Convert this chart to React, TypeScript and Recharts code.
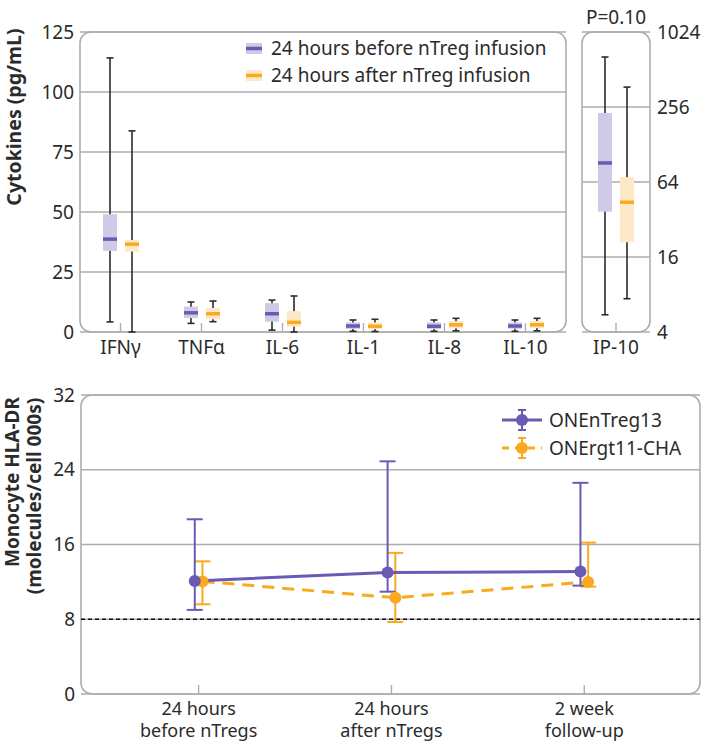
import React from 'react';
import {
  ComposedChart,
  Bar,
  Line,
  ErrorBar,
  XAxis,
  YAxis,
  CartesianGrid,
  ReferenceArea,
  ReferenceLine,
  Legend,
  Label,
} from 'recharts';

// Top panel: cytokines, box stats as [min, q1, median, q3, max]
const cytokines = ['IFNγ', 'TNFα', 'IL-6', 'IL-1', 'IL-8', 'IL-10'];
const beforeStats = [
  [4.2, 33.8, 38.7, 49.1, 114.2],
  [3.6, 5.8, 8.0, 10.6, 12.5],
  [0.8, 4.3, 7.6, 12.0, 13.3],
  [0.3, 1.2, 2.5, 4.0, 5.0],
  [0.3, 1.2, 2.4, 4.0, 5.0],
  [0.3, 1.3, 2.5, 4.0, 5.0],
];
const afterStats = [
  [0, 33.5, 36.6, 38.3, 83.8],
  [4.3, 5.3, 7.6, 10.0, 12.9],
  [0, 2.2, 4.0, 8.7, 15.0],
  [0.2, 1.2, 2.4, 4.0, 5.3],
  [0.5, 1.5, 3.0, 4.5, 5.7],
  [0.5, 1.6, 3.0, 4.6, 5.7],
];
const cytokineTicks = [0, 25, 50, 75, 100, 125];

const ip10Name = 'IP-10';
const ip10Before = [5.5, 37, 91, 229, 645];
const ip10After = [7.4, 21, 44, 70, 370];
const ip10Ticks = [4, 16, 64, 256, 1024];
const ip10P = 'P=0.10';

const groupNames = ['24 hours before nTreg infusion', '24 hours after nTreg infusion'];

// Bottom panel: monocyte HLA-DR
const timepointLabels = [
  ['24 hours', 'before nTregs'],
  ['24 hours', 'after nTregs'],
  ['2 week', 'follow-up'],
];
const seriesNames = ['ONEnTreg13', 'ONErgt11-CHA'];
const treg13Mean = [12.1, 13.0, 13.1];
const treg13Low = [9.0, 10.95, 11.6];
const treg13High = [18.7, 24.9, 22.6];
const rgt11Mean = [12.05, 10.3, 12.0];
const rgt11Low = [9.6, 7.7, 11.5];
const rgt11High = [14.2, 15.1, 16.2];
const hlaTicks = [0, 8, 16, 24, 32];
const hlaThreshold = 8;

const PURPLE = '#6a5ab4';
const PURPLE_LIGHT = '#cecae8';
const ORANGE = '#f9aa1f';
const ORANGE_LIGHT = '#fde9c8';
const FRAME = '#adadad';
const TEXT = '#2b2b2b';
const FONT = 19;

const groupStyle: Record<string, { light: string; dark: string }> = {
  before: { light: PURPLE_LIGHT, dark: PURPLE },
  after: { light: ORANGE_LIGHT, dark: ORANGE },
};

const cytokineData = cytokines.map((name, i) => ({
  name,
  before: [beforeStats[i][0], beforeStats[i][4]],
  after: [afterStats[i][0], afterStats[i][4]],
  beforeStats: beforeStats[i],
  afterStats: afterStats[i],
}));

const ip10Data = [
  {
    name: ip10Name,
    before: [ip10Before[0], ip10Before[4]],
    after: [ip10After[0], ip10After[4]],
    beforeStats: ip10Before,
    afterStats: ip10After,
  },
];

const DODGE = 0.02;
const treg13Data = treg13Mean.map((m, i) => ({
  x: i + 1 - DODGE,
  y: m,
  err: [m - treg13Low[i], treg13High[i] - m],
}));
const rgt11Data = rgt11Mean.map((m, i) => ({
  x: i + 1 + DODGE,
  y: m,
  err: [m - rgt11Low[i], rgt11High[i] - m],
}));

// box + whisker drawn inside the [min, max] range bar
function boxShape(group: 'before' | 'after', log: boolean) {
  return (props: any) => {
    const { x, y, width, height, payload } = props;
    const [mn, q1, med, q3, mx] = payload[group + 'Stats'];
    const f = log ? Math.log : (v: number) => v;
    const py = (v: number) => y + (height * (f(mx) - f(v))) / (f(mx) - f(mn));
    const cx = x + width / 2;
    const { light, dark } = groupStyle[group];
    return (
      <g>
        <line x1={cx} x2={cx} y1={y} y2={y + height} stroke={TEXT} strokeWidth={1.6} />
        <line x1={cx - 3.5} x2={cx + 3.5} y1={y} y2={y} stroke={TEXT} strokeWidth={1.6} />
        <line x1={cx - 3.5} x2={cx + 3.5} y1={y + height} y2={y + height} stroke={TEXT} strokeWidth={1.6} />
        <rect x={x} y={py(q3)} width={width} height={py(q1) - py(q3)} fill={light} />
        <line x1={x} x2={x + width} y1={py(med)} y2={py(med)} stroke={dark} strokeWidth={3.5} />
      </g>
    );
  };
}

const frameShape = (p: any) => (
  <rect x={p.x} y={p.y} width={p.width} height={p.height} rx={11} fill="none" stroke={FRAME} strokeWidth={1.6} />
);

const CategoryTick = (props: any) => {
  const { x, y, payload } = props;
  return (
    <g>
      <line x1={x} x2={x} y1={y} y2={y - 9} stroke={FRAME} strokeWidth={1.4} />
      <text x={x} y={y + 22} textAnchor="middle" fill={TEXT} fontSize={FONT}>
        {payload.value}
      </text>
    </g>
  );
};

const TimeTick = (props: any) => {
  const { x, y, payload } = props;
  const lines = timepointLabels[Math.round(payload.value) - 1] || [];
  return (
    <g>
      <line x1={x} x2={x} y1={y} y2={y - 9} stroke={FRAME} strokeWidth={1.4} />
      {lines.map((t, i) => (
        <text key={i} x={x} y={y + 21 + i * 22} textAnchor="middle" fill={TEXT} fontSize={18}>
          {t}
        </text>
      ))}
    </g>
  );
};

const TopLegend = () => (
  <div style={{ fontSize: FONT, color: TEXT, lineHeight: '27px' }}>
    {(['before', 'after'] as const).map((g, i) => (
      <div key={g} style={{ display: 'flex', alignItems: 'center' }}>
        <svg width={25} height={27}>
          <rect x={0} y={8} width={16} height={11} fill={groupStyle[g].light} />
          <line x1={0} x2={16} y1={13.5} y2={13.5} stroke={groupStyle[g].dark} strokeWidth={3.5} />
        </svg>
        <span style={{ whiteSpace: 'nowrap' }}>{groupNames[i]}</span>
      </div>
    ))}
  </div>
);

const BottomLegend = () => (
  <div style={{ fontSize: FONT, color: TEXT, lineHeight: '28px' }}>
    {[PURPLE, ORANGE].map((c, i) => (
      <div key={c} style={{ display: 'flex', alignItems: 'center' }}>
        <svg width={48} height={28}>
          <line x1={1} x2={41} y1={14} y2={14} stroke={c} strokeWidth={3} strokeDasharray={i ? '7 6' : undefined} />
          <line x1={21} x2={21} y1={4} y2={24} stroke={c} strokeWidth={2} />
          <line x1={17} x2={25} y1={4} y2={4} stroke={c} strokeWidth={2} />
          <line x1={17} x2={25} y1={24} y2={24} stroke={c} strokeWidth={2} />
          <circle cx={21} cy={14} r={6} fill={c} />
        </svg>
        <span style={{ whiteSpace: 'nowrap' }}>{seriesNames[i]}</span>
      </div>
    ))}
  </div>
);

export default function App() {
  return (
    <div
      style={{
        position: 'absolute',
        left: 0,
        top: 0,
        width: 704,
        height: 743,
        background: '#fff',
        fontFamily: '"Noto Sans", sans-serif',
      }}
    >
      <div style={{ position: 'absolute', left: 0, top: 0 }}>
        <ComposedChart
          width={570}
          height={370}
          data={cytokineData}
          margin={{ top: 32, right: 4, left: 0, bottom: 0 }}
          barSize={14}
          barGap={8}
        >
          <CartesianGrid vertical={false} stroke={FRAME} strokeWidth={1.4} />
          <XAxis dataKey="name" type="category" interval={0} height={38} tickSize={0} tickMargin={0} axisLine={false} tickLine={false} tick={<CategoryTick />} />
          <YAxis
            type="number"
            domain={[0, 125]}
            ticks={cytokineTicks}
            width={80}
            tickSize={0}
            tickMargin={6}
            axisLine={false}
            tickLine={false}
            tick={{ fill: TEXT, fontSize: FONT }}
          >
            <Label
              content={(p: any) => {
                const vb = p.viewBox;
                const cx = vb.x + 13;
                const cy = vb.y + 85;
                return (
                  <text x={cx} y={cy} transform={`rotate(-90 ${cx} ${cy})`} textAnchor="middle" dominantBaseline="central" fontWeight="bold" fontSize={19.5} fill={TEXT}>
                    Cytokines (pg/mL)
                  </text>
                );
              }}
            />
          </YAxis>
          <ReferenceArea shape={frameShape} ifOverflow="visible" />
          <Bar dataKey="before" name={groupNames[0]} shape={boxShape('before', false)} isAnimationActive={false} />
          <Bar dataKey="after" name={groupNames[1]} shape={boxShape('after', false)} isAnimationActive={false} />
          <Legend layout="vertical" align="center" verticalAlign="middle" content={<TopLegend />} wrapperStyle={{ left: 246, top: 35, width: 320 }} />
        </ComposedChart>
      </div>

      <div style={{ position: 'absolute', left: 570, top: 0 }}>
        <ComposedChart
          width={134}
          height={370}
          data={ip10Data}
          margin={{ top: 32, right: 0, left: 12, bottom: 0 }}
          barSize={14}
          barGap={8}
        >
          <CartesianGrid vertical={false} stroke={FRAME} strokeWidth={1.4} />
          <XAxis dataKey="name" type="category" height={38} tickSize={0} tickMargin={0} axisLine={false} tickLine={false} tick={<CategoryTick />} />
          <YAxis
            orientation="right"
            type="number"
            scale="log"
            domain={[4, 1024]}
            ticks={ip10Ticks}
            allowDataOverflow
            width={54}
            tickSize={0}
            tickMargin={7}
            axisLine={false}
            tickLine={false}
            tick={{ fill: TEXT, fontSize: FONT }}
          />
          <ReferenceArea
            shape={frameShape}
            ifOverflow="visible"
            label={{ value: ip10P, position: 'top', offset: 8, fill: TEXT, fontSize: FONT }}
          />
          <Bar dataKey="before" shape={boxShape('before', true)} isAnimationActive={false} />
          <Bar dataKey="after" shape={boxShape('after', true)} isAnimationActive={false} />
        </ComposedChart>
      </div>

      <div style={{ position: 'absolute', left: 0, top: 380 }}>
        <ComposedChart width={704} height={363} margin={{ top: 15, right: 4, left: 0, bottom: 0 }}>
          <CartesianGrid vertical={false} stroke={FRAME} strokeWidth={1.4} />
          <XAxis
            dataKey="x"
            type="number"
            domain={[0.39, 3.6]}
            ticks={[1, 2, 3]}
            allowDataOverflow
            height={49}
            tickSize={0}
            tickMargin={0}
            axisLine={false}
            tickLine={false}
            tick={<TimeTick />}
          />
          <YAxis
            type="number"
            domain={[0, 32]}
            ticks={hlaTicks}
            width={81}
            tickSize={0}
            tickMargin={6}
            axisLine={false}
            tickLine={false}
            tick={{ fill: TEXT, fontSize: FONT }}
          >
            <Label
              content={(p: any) => {
                const vb = p.viewBox;
                const x1 = vb.x + 12;
                const y1 = vb.y + 87;
                const x2 = vb.x + 34;
                const y2 = vb.y + 101;
                return (
                  <g fontWeight="bold" fontSize={19} fill={TEXT}>
                    <text x={x1} y={y1} transform={`rotate(-90 ${x1} ${y1})`} textAnchor="middle" dominantBaseline="central">
                      Monocyte HLA-DR
                    </text>
                    <text x={x2} y={y2} transform={`rotate(-90 ${x2} ${y2})`} textAnchor="middle" dominantBaseline="central">
                      (molecules/cell 000s)
                    </text>
                  </g>
                );
              }}
            />
          </YAxis>
          <ReferenceArea shape={frameShape} ifOverflow="visible" />
          <ReferenceLine y={hlaThreshold} stroke="#111" strokeWidth={1.3} strokeDasharray="4 3" />
          <Line
            data={rgt11Data}
            dataKey="y"
            name={seriesNames[1]}
            stroke={ORANGE}
            strokeWidth={3}
            strokeDasharray="12 8"
            dot={{ r: 6, fill: ORANGE, strokeWidth: 0 }}
            isAnimationActive={false}
          >
            <ErrorBar dataKey="err" direction="y" width={8} stroke={ORANGE} strokeWidth={2} />
          </Line>
          <Line
            data={treg13Data}
            dataKey="y"
            name={seriesNames[0]}
            stroke={PURPLE}
            strokeWidth={3}
            dot={{ r: 6, fill: PURPLE, strokeWidth: 0 }}
            isAnimationActive={false}
          >
            <ErrorBar dataKey="err" direction="y" width={8} stroke={PURPLE} strokeWidth={2} />
          </Line>
          <Legend layout="vertical" align="center" verticalAlign="middle" content={<BottomLegend />} wrapperStyle={{ left: 501, top: 26, width: 200 }} />
        </ComposedChart>
      </div>
    </div>
  );
}
